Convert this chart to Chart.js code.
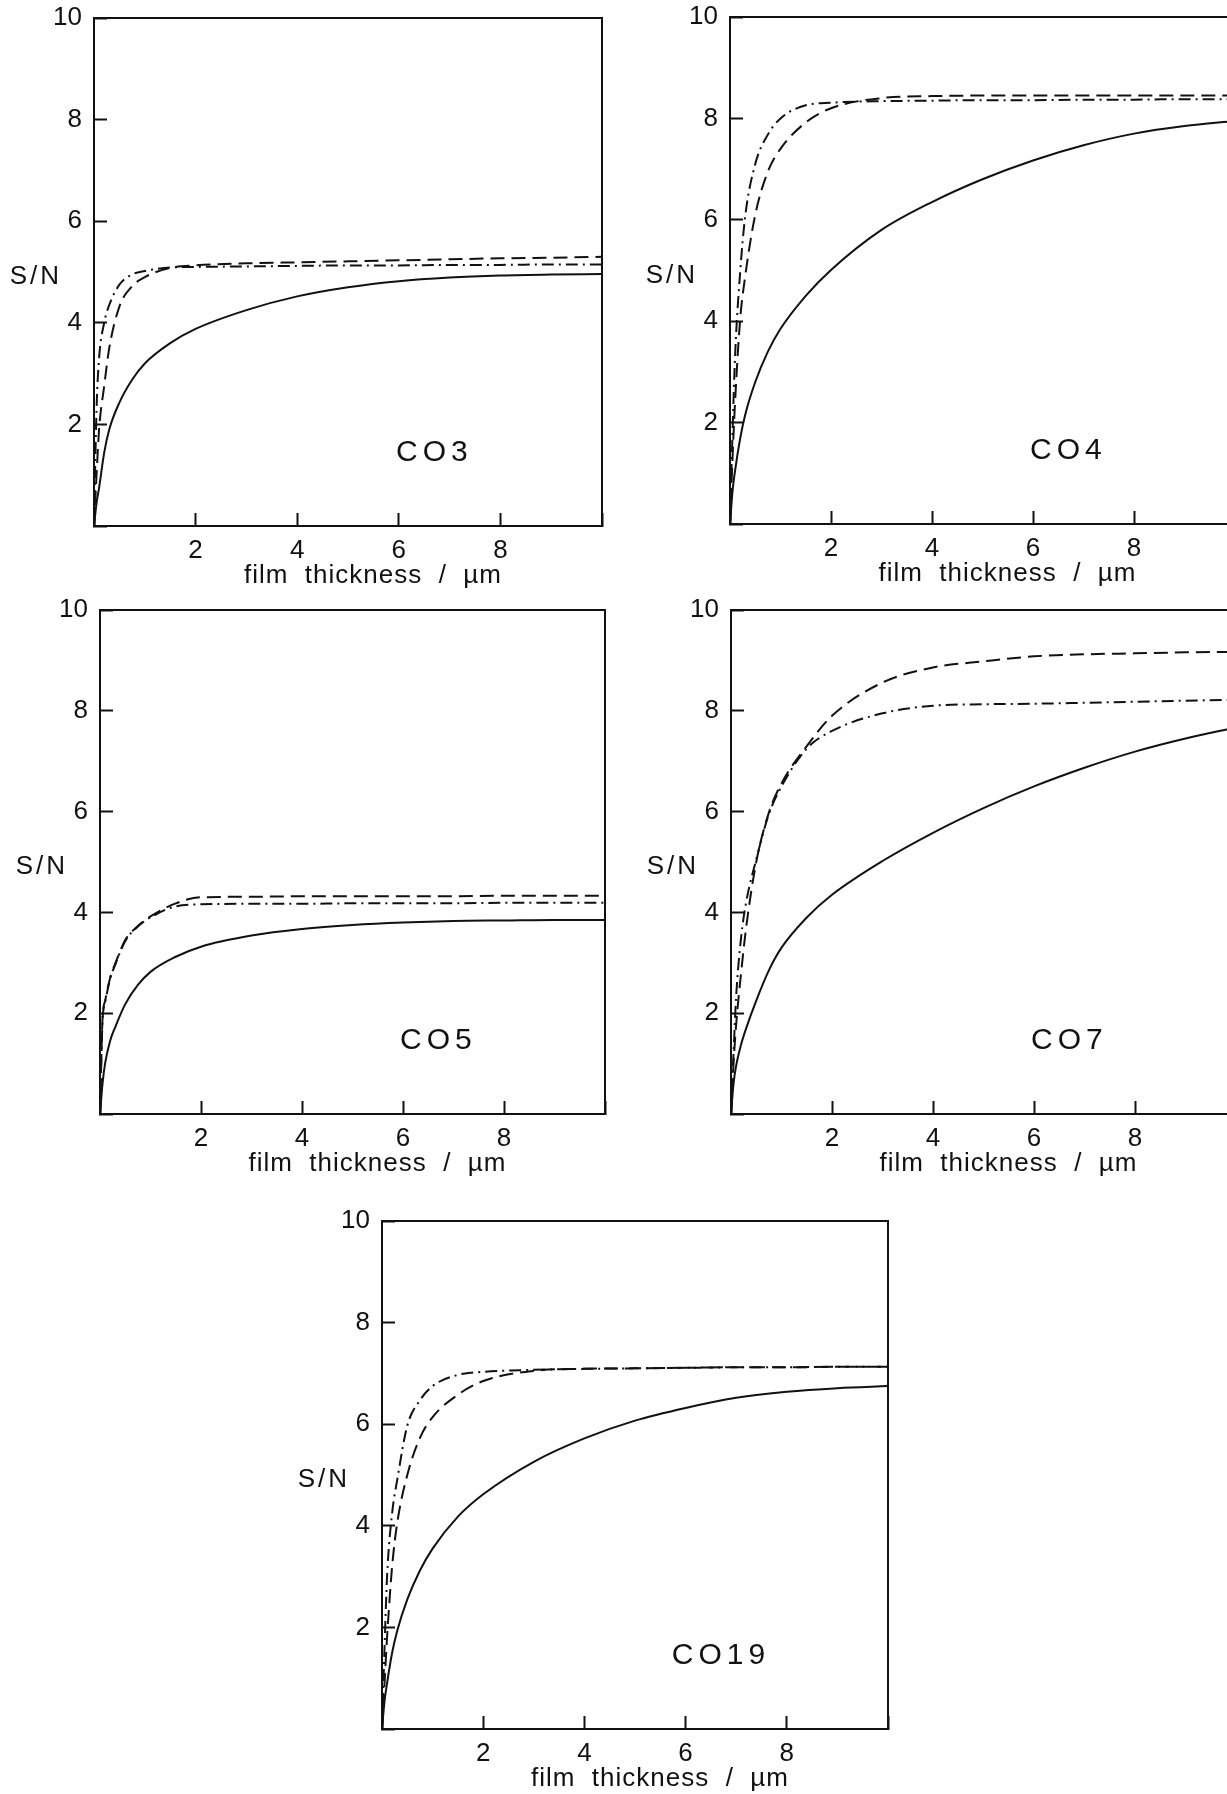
<!DOCTYPE html>
<html>
<head>
<meta charset="utf-8">
<script src="https://cdn.jsdelivr.net/npm/chart.js@4.4.0/dist/chart.umd.min.js"></script>
<style>
  body { margin: 0; width: 1227px; height: 1794px; overflow: hidden; background: #fff; position: relative; }
  canvas { position: absolute; }
</style>
</head>
<body>
<script>
// espesor de pelicula (um), comun a todas las curvas
const thickness = [0, 0.05, 0.1, 0.2, 0.3, 0.5, 0.75, 1, 1.5, 2, 3, 4, 5, 6, 7, 8, 9, 10];

// CO3
const co3Solid   = [0, 0.45, 0.75, 1.44, 1.9, 2.43, 2.88, 3.2, 3.6, 3.88, 4.25, 4.52, 4.7, 4.82, 4.89, 4.93, 4.95, 4.96];
const co3Dashed  = [0, 1.0, 1.9, 2.75, 3.5, 4.32, 4.72, 4.9, 5.08, 5.13, 5.17, 5.19, 5.21, 5.23, 5.25, 5.27, 5.28, 5.3];
const co3DashDot = [0, 2.3, 3.3, 4.0, 4.35, 4.75, 4.95, 5.02, 5.09, 5.1, 5.11, 5.12, 5.13, 5.13, 5.14, 5.14, 5.15, 5.15];
// CO4
const co4Solid   = [0, 0.65, 1.05, 1.68, 2.15, 2.8, 3.4, 3.85, 4.5, 5.01, 5.8, 6.35, 6.8, 7.17, 7.47, 7.7, 7.85, 7.95];
const co4Dashed  = [0, 1.3, 2.4, 4.02, 4.88, 6.1, 6.95, 7.4, 7.92, 8.2, 8.4, 8.44, 8.45, 8.45, 8.45, 8.45, 8.45, 8.45];
const co4DashDot = [0, 1.8, 3.3, 4.95, 6.06, 7.1, 7.68, 8.0, 8.26, 8.31, 8.34, 8.35, 8.36, 8.36, 8.37, 8.37, 8.38, 8.38];
// CO5
const co5Solid   = [0, 0.6, 1.0, 1.45, 1.72, 2.18, 2.56, 2.82, 3.12, 3.32, 3.54, 3.67, 3.75, 3.8, 3.83, 3.84, 3.85, 3.85];
const co5Dashed  = [0, 1.9, 2.24, 2.7, 2.98, 3.45, 3.73, 3.92, 4.18, 4.3, 4.31, 4.32, 4.32, 4.32, 4.32, 4.33, 4.33, 4.33];
const co5DashDot = [0, 1.85, 2.2, 2.68, 2.96, 3.43, 3.72, 3.9, 4.12, 4.16, 4.17, 4.17, 4.18, 4.18, 4.18, 4.19, 4.19, 4.19];
// CO7
const co7Solid   = [0, 0.6, 0.95, 1.38, 1.7, 2.25, 2.85, 3.3, 3.9, 4.35, 5.02, 5.58, 6.07, 6.5, 6.87, 7.19, 7.45, 7.67];
const co7Dashed  = [0, 1.0, 1.75, 2.8, 3.7, 5.0, 5.98, 6.56, 7.3, 7.9, 8.56, 8.86, 8.98, 9.08, 9.12, 9.14, 9.16, 9.17];
const co7DashDot = [0, 1.2, 2.3, 3.5, 4.2, 5.05, 5.95, 6.5, 7.25, 7.6, 7.95, 8.1, 8.13, 8.14, 8.16, 8.18, 8.2, 8.22];
// CO19
const co19Solid   = [0, 0.55, 0.9, 1.5, 1.93, 2.55, 3.12, 3.55, 4.18, 4.62, 5.26, 5.72, 6.07, 6.32, 6.52, 6.64, 6.71, 6.75];
const co19Dashed  = [0, 0.9, 1.8, 3.2, 4.05, 5.0, 5.73, 6.14, 6.58, 6.85, 7.05, 7.09, 7.1, 7.11, 7.12, 7.12, 7.13, 7.13];
const co19DashDot = [0, 1.6, 3.0, 4.25, 4.9, 5.97, 6.47, 6.75, 6.97, 7.03, 7.07, 7.09, 7.1, 7.11, 7.12, 7.12, 7.13, 7.13];

const xTickLabels = [2, 4, 6, 8];
const yTickLabels = [2, 4, 6, 8, 10];

const tinta = "#111";
const FUENTE = '"Liberation Sans", Arial, sans-serif';
Chart.defaults.font.family = FUENTE;
Chart.defaults.color = tinta;

// paneles: posicion del recuadro de datos en la pagina
const paneles = [
  { nombre: "CO3",  left: 94,  top: 18,   w: 508, h: 508, solid: co3Solid,  dashed: co3Dashed,  dashDot: co3DashDot },
  { nombre: "CO4",  left: 730, top: 17,   w: 505, h: 507, solid: co4Solid,  dashed: co4Dashed,  dashDot: co4DashDot },
  { nombre: "CO5",  left: 100, top: 610,  w: 505, h: 504, solid: co5Solid,  dashed: co5Dashed,  dashDot: co5DashDot },
  { nombre: "CO7",  left: 731, top: 610,  w: 505, h: 504, solid: co7Solid,  dashed: co7Dashed,  dashDot: co7DashDot },
  { nombre: "CO19", left: 382, top: 1221, w: 506, h: 508, solid: co19Solid, dashed: co19Dashed, dashDot: co19DashDot }
];

const TICK_FONT = 26;
const TICK_LEN = -13;   // negativo: la marca va hacia dentro
const X_PAD = 22;
const Y_PAD = 25;
const Y_ANCHO = 94;     // ancho del eje y
const X_ALTO = 70;      // alto del eje x
// chart.js suma el padding de las etiquetas arriba y a la derecha
const PAD_TOP = Math.ceil(TICK_FONT * 0.6) + Y_PAD + 2;
const PAD_RIGHT = X_PAD + 2;

// marco completo + textos S/N, titulo del eje x y nombre de muestra
const marco = {
  id: "marco",
  afterDraw(chart) {
    const { ctx, chartArea: a, scales } = chart;
    const nombre = chart.options.plugins.marco.nombre;
    ctx.save();
    ctx.strokeStyle = tinta;
    ctx.lineWidth = 2;
    ctx.strokeRect(a.left, a.top, a.right - a.left, a.bottom - a.top);

    ctx.fillStyle = tinta;
    ctx.textBaseline = "middle";
    ctx.font = "26px " + FUENTE;
    ctx.textAlign = "right";
    ctx.letterSpacing = "3px";
    ctx.fillText("S/N", a.left - 32, scales.y.getPixelForValue(4.9));

    ctx.textAlign = "center";
    ctx.font = "26px " + FUENTE;
    ctx.letterSpacing = "1px";
    ctx.fillText("film  thickness  /  µm", (a.left + a.right) / 2 + 25, a.bottom + 50);

    ctx.font = "30px " + FUENTE;
    ctx.letterSpacing = "5px";
    ctx.fillText(nombre, scales.x.getPixelForValue(6.7), scales.y.getPixelForValue(1.45));
    ctx.restore();
  }
};

function serie(ys, dash) {
  return {
    data: thickness.map((x, i) => ({ x: x, y: ys[i] })),
    borderColor: tinta,
    borderWidth: 2,
    borderDash: dash,
    pointRadius: 0,
    cubicInterpolationMode: "monotone",
    fill: false
  };
}

paneles.forEach((p) => {
  const canvas = document.createElement("canvas");
  const cw = p.w + Y_ANCHO + PAD_RIGHT;
  const ch = p.h + PAD_TOP + X_ALTO;
  canvas.width = cw;
  canvas.height = ch;
  canvas.style.width = cw + "px";
  canvas.style.height = ch + "px";
  canvas.style.left = (p.left - Y_ANCHO) + "px";
  canvas.style.top = (p.top - PAD_TOP) + "px";
  document.body.appendChild(canvas);

  const grid = { drawOnChartArea: false, drawTicks: true, tickLength: TICK_LEN, tickColor: tinta, tickWidth: 2 };

  new Chart(canvas, {
    type: "line",
    data: {
      datasets: [
        serie(p.solid, []),
        serie(p.dashed, [14, 7]),
        serie(p.dashDot, [12, 5, 2, 5])
      ]
    },
    options: {
      responsive: false,
      animation: false,
      devicePixelRatio: 1,
      layout: { padding: { top: PAD_TOP, right: PAD_RIGHT, left: 0, bottom: 0 } },
      plugins: {
        legend: { display: false },
        tooltip: { enabled: false },
        marco: { nombre: p.nombre }
      },
      scales: {
        x: {
          type: "linear",
          min: 0,
          max: 10,
          ticks: {
            stepSize: 2,
            padding: X_PAD,
            font: { size: TICK_FONT },
            color: tinta,
            maxRotation: 0,
            callback: (v) => (xTickLabels.includes(v) ? String(v) : "")
          },
          grid: grid,
          border: { display: true, color: tinta, width: 2 },
          afterFit: (s) => { s.height = X_ALTO; }
        },
        y: {
          min: 0,
          max: 10,
          ticks: {
            stepSize: 2,
            padding: Y_PAD,
            font: { size: TICK_FONT },
            color: tinta,
            callback: (v) => (yTickLabels.includes(v) ? String(v) : "")
          },
          grid: grid,
          border: { display: true, color: tinta, width: 2 },
          afterFit: (s) => { s.width = Y_ANCHO; }
        }
      }
    },
    plugins: [marco]
  });
});
</script>
</body>
</html>
